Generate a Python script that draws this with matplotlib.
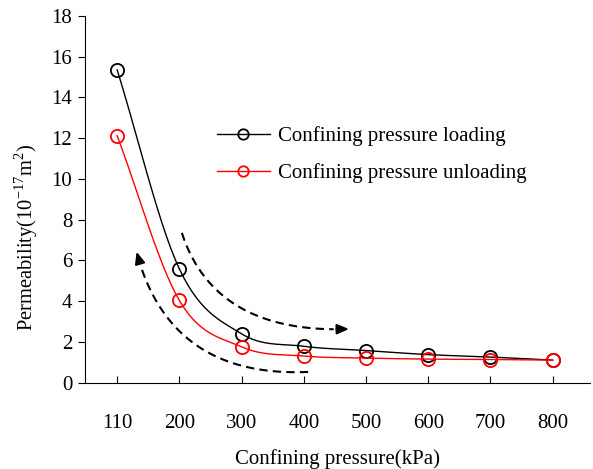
import numpy as np
import matplotlib.pyplot as plt

plt.rcParams['font.family'] = ['Liberation Serif', 'DejaVu Serif']
plt.rcParams['mathtext.fontset'] = 'custom'
plt.rcParams['mathtext.rm'] = 'Liberation Serif'

# Datos
presion = ['110', '200', '300', '400', '500', '600', '700', '800']
carga = [15.35, 5.58, 2.39, 1.78, 1.57, 1.37, 1.25, 1.1]
descarga = [12.12, 4.03, 1.75, 1.3, 1.2, 1.15, 1.13, 1.1]


def catmull_rom(x, y, n=30):
    # curva suavizada tipo Excel que pasa por todos los puntos
    x = np.asarray(x, float)
    y = np.asarray(y, float)
    px = np.concatenate([[2 * x[0] - x[1]], x, [2 * x[-1] - x[-2]]])
    py = np.concatenate([[2 * y[0] - y[1]], y, [2 * y[-1] - y[-2]]])
    xs, ys = [], []
    t = np.linspace(0, 1, n)
    for i in range(1, len(px) - 2):
        for p, out in ((px, xs), (py, ys)):
            p0, p1, p2, p3 = p[i - 1], p[i], p[i + 1], p[i + 2]
            out.extend(0.5 * (2 * p1 + (-p0 + p2) * t
                              + (2 * p0 - 5 * p1 + 4 * p2 - p3) * t**2
                              + (-p0 + 3 * p1 - 3 * p2 + p3) * t**3))
    return np.array(xs), np.array(ys)


def bezier(p0, c, p2, n=60):
    t = np.linspace(0, 1, n)[:, None]
    pts = (1 - t)**2 * np.array(p0) + 2 * (1 - t) * t * np.array(c) + t**2 * np.array(p2)
    return pts[:, 0], pts[:, 1]


fig = plt.figure(figsize=(5.93, 4.69), dpi=100)
ax = fig.add_axes([0.143, 0.1844, 0.852, 0.7816])

idx = np.arange(len(presion))
for vals, col, lab in ((carga, 'black', 'Confining pressure loading'),
                       (descarga, 'red', 'Confining pressure unloading')):
    sx, sy = catmull_rom(idx, vals)
    ax.plot(sx, sy, color=col, lw=1.0)
    ax.plot(idx, vals, 'o', mfc='none', mec=col, ms=9.5, mew=1.3)
    ax.plot([], [], color=col, lw=1.0, marker='o', mfc='none', mec=col,
            ms=7.5, mew=1.3, label=lab)

# flechas discontinuas (carga / descarga)
for p0, c, p2 in (((1.04, 7.35), (1.57, 2.34), (3.77, 2.63)),
                  ((3.07, 0.52), (0.82, 0.22), (0.30, 6.55))):
    bx, by = bezier(p0, c, p2)
    ax.plot(bx[:-4], by[:-4], 'k--', lw=1.5, dashes=(4, 2.5))
    ax.annotate('', xy=(bx[-1], by[-1]), xytext=(bx[-5], by[-5]),
                arrowprops=dict(arrowstyle='-|>,head_length=0.7,head_width=0.3',
                                color='black', lw=1.5))

ax.set_xlim(-0.52, 7.6)
ax.set_ylim(0, 18)
ax.set_yticks(range(0, 19, 2))
ax.set_xticks(idx)
ax.set_xticklabels(presion)
ax.spines['top'].set_visible(False)
ax.spines['right'].set_visible(False)
ax.tick_params(axis='x', direction='in', length=5, pad=23, labelsize=15)
ax.tick_params(axis='y', direction='out', length=5, pad=4, labelsize=15)
ax.set_xlabel('Confining pressure(kPa)', fontsize=15, labelpad=11)
ax.set_ylabel('Permeability(10$^{-17}$m$^2$)', fontsize=14.8)
ax.yaxis.set_label_coords(-0.089, 0.397)

ax.legend(loc='upper left', bbox_to_anchor=(0.261, 0.70), frameon=False,
          fontsize=15, handlelength=2.55, labelspacing=0.85, handletextpad=0.4,
          borderaxespad=0, borderpad=0)

fig.savefig('out.png', dpi=100)
